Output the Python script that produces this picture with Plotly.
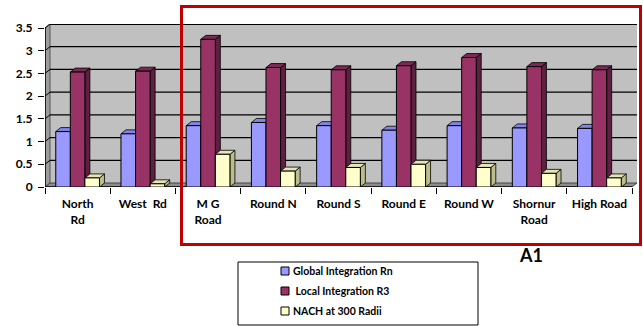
import plotly.graph_objects as go

# ---- data ----
categories = ["North<br>Rd", "West  Rd", "M G<br>Road", "Round N", "Round S",
              "Round E", "Round W", "Shornur<br>Road", "High Road"]
global_rn = [1.22, 1.17, 1.35, 1.42, 1.35, 1.25, 1.35, 1.30, 1.29]
local_r3 = [2.53, 2.55, 3.25, 2.63, 2.58, 2.67, 2.85, 2.65, 2.58]
nach_300 = [0.20, 0.07, 0.72, 0.35, 0.43, 0.50, 0.43, 0.30, 0.20]
series_names = ["Global Integration Rn", "Local Integration R3", "NACH at 300 Radii"]
y_ticks = [0, 0.5, 1, 1.5, 2, 2.5, 3, 3.5]
region_label = "A1"

# ---- styling ----
W, H = 643, 326
M_L, M_R, M_T, M_B = 45, 6, 24, 139
PLOT_W = W - M_L - M_R
PLOT_H = H - M_T - M_B
DEPTH_PX, RISE_PX = 5, 4          # pseudo-3D offset of the back plane
N = len(categories)
Y_MAX = y_ticks[-1]

x_unit = (PLOT_W - DEPTH_PX) / N
y_unit = (PLOT_H - RISE_PX) / Y_MAX
DX = DEPTH_PX / x_unit
DY = RISE_PX / y_unit

front = ["#9999FF", "#993366", "#FFFFCC"]
side = ["#6E6EC8", "#5E1F40", "#BDBD8C"]
top = ["#8484E6", "#7A2A53", "#E4E4B4"]
GROUP = 0.67
BW = GROUP / 3
FONT = "Lato"

def px_x(p):
    return (p - M_L) / PLOT_W

def px_y(p):
    return (H - M_B - p) / PLOT_H

fig = go.Figure()
series = [global_rn, local_r3, nach_300]
shapes = []

# back wall, left wall and floor
shapes.append(dict(type="rect", xref="x", yref="y", x0=-0.5 + DX, x1=N - 0.5 + DX,
                   y0=DY, y1=Y_MAX + DY, fillcolor="#C0C0C0",
                   line=dict(width=0), layer="below"))
shapes.append(dict(type="path", xref="x", yref="y", layer="below",
                   path=f"M{-0.5},0 L{-0.5+DX},{DY} L{-0.5+DX},{Y_MAX+DY} L{-0.5},{Y_MAX} Z",
                   fillcolor="#9C9C9C", line=dict(color="#555555", width=1)))
for v in y_ticks[1:]:
    shapes.append(dict(type="line", xref="x", yref="y", layer="below",
                       x0=-0.5 + DX, x1=N - 0.5 + DX, y0=v + DY, y1=v + DY,
                       line=dict(color="black", width=1.8 if v == Y_MAX else 1.3)))
    shapes.append(dict(type="line", xref="x", yref="y", layer="below",
                       x0=-0.5, x1=-0.5 + DX, y0=v, y1=v + DY,
                       line=dict(color="black", width=1)))
shapes.append(dict(type="path", xref="x", yref="y", layer="below",
                   path=f"M{-0.5},0 L{N-0.5},0 L{N-0.5+DX},{DY} L{-0.5+DX},{DY} Z",
                   fillcolor="#8C8C8C", line=dict(color="#444444", width=1)))
shapes.append(dict(type="line", xref="x", yref="y", layer="below",
                   x0=-0.5, x1=N - 0.5, y0=0, y1=0, line=dict(color="black", width=1.5)))
shapes.append(dict(type="line", xref="x", yref="y", layer="below",
                   x0=-0.5, x1=-0.5, y0=0, y1=Y_MAX, line=dict(color="black", width=1.5)))

# bars: front faces as Bar traces, depth faces derived from the same values
for k, vals in enumerate(series):
    off = -GROUP / 2 + k * BW
    fig.add_trace(go.Bar(x=categories, y=vals, width=BW, offset=off,
                         name=series_names[k], showlegend=False,
                         marker=dict(color=front[k], line=dict(color="black", width=1))))
    for i, v in enumerate(vals):
        x0 = i + off
        x1 = x0 + BW
        shapes.append(dict(type="path", xref="x", yref="y", layer="below",
                           path=f"M{x1},0 L{x1+DX},{DY} L{x1+DX},{v+DY} L{x1},{v} Z",
                           fillcolor=side[k], line=dict(color="black", width=0.8)))
        shapes.append(dict(type="path", xref="x", yref="y", layer="below",
                           path=f"M{x0},{v} L{x1},{v} L{x1+DX},{v+DY} L{x0+DX},{v+DY} Z",
                           fillcolor=top[k], line=dict(color="black", width=0.8)))

# highlighted region frame
shapes.append(dict(type="rect", xref="paper", yref="paper",
                   x0=px_x(181.5), x1=px_x(640.5), y0=px_y(244.5), y1=px_y(6.5),
                   line=dict(color="#C00000", width=3), fillcolor="rgba(0,0,0,0)"))

annotations = [dict(text=f"<b>{region_label}</b>", xref="paper", yref="paper",
                    x=px_x(531), y=px_y(255), xanchor="center", yanchor="middle",
                    showarrow=False, font=dict(family=FONT, size=18, color="black"))]

# legend box
shapes.append(dict(type="rect", xref="paper", yref="paper",
                   x0=px_x(238), x1=px_x(478), y0=px_y(325), y1=px_y(262),
                   line=dict(color="black", width=1), fillcolor="white"))
legend_rows = [271, 291, 311]
legend_text = [series_names[0], "\u00a0" + series_names[1], series_names[2]]
for k in range(3):
    cy = legend_rows[k]
    shapes.append(dict(type="rect", xref="paper", yref="paper",
                       x0=px_x(281), x1=px_x(289), y0=px_y(cy + 4), y1=px_y(cy - 4),
                       fillcolor=front[k], line=dict(color="black", width=1)))
    annotations.append(dict(text=f"<b>{legend_text[k]}</b>", xref="paper", yref="paper",
                            x=px_x(291), y=px_y(cy), xanchor="left", yanchor="middle",
                            showarrow=False,
                            font=dict(family=FONT, size=10.5, color="black")))

fig.update_layout(
    width=W, height=H,
    margin=dict(l=M_L, r=M_R, t=M_T, b=M_B, pad=0),
    paper_bgcolor="white", plot_bgcolor="white",
    barmode="overlay",
    shapes=shapes, annotations=annotations,
    xaxis=dict(type="category", range=[-0.5, N - 0.5 + DX], tickson="boundaries",
               ticks="outside", ticklen=6, tickcolor="black", tickwidth=1,
               ticklabelstandoff=8,
               showgrid=False, showline=False, zeroline=False,
               tickfont=dict(family=FONT, size=12, color="black", weight="bold")),
    yaxis=dict(range=[0, Y_MAX + DY], tickvals=y_ticks,
               ticktext=[f"{t:g}" for t in y_ticks],
               ticks="outside", ticklen=6, tickcolor="black", ticklabelstandoff=3,
               showgrid=False, showline=False, zeroline=False,
               tickfont=dict(family=FONT, size=12, color="black", weight="bold")),
)

fig.write_html("out.html")
